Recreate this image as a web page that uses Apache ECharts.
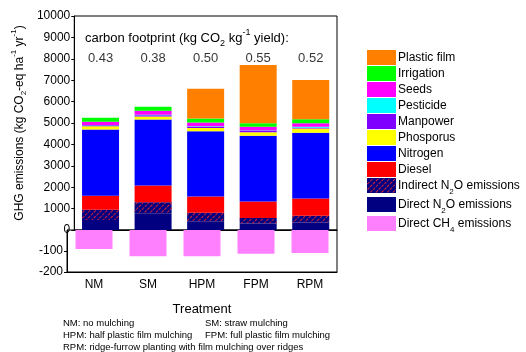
<!DOCTYPE html>
<html><head><meta charset="utf-8">
<script src="https://cdn.jsdelivr.net/npm/echarts@6/dist/echarts.min.js"></script>
<style>html,body{margin:0;padding:0;background:#fff}#c{width:526px;height:352px}</style>
</head><body><div id="c"></div>
<script>
const categories = ['NM', 'SM', 'HPM', 'FPM', 'RPM'];
const directN2O   = [470, 780, 390, 300, 350];
const indirectN2O = [480, 520, 420, 260, 320];
const diesel      = [650, 780, 750, 770, 800];
const nitrogen    = [3100, 3080, 3055, 3080, 3070];
const phosporus   = [150, 140, 155, 155, 200];
const manpower    = [40, 60, 60, 80, 40];
const pesticide   = [20, 20, 20, 20, 50];
const seeds       = [150, 190, 170, 155, 155];
const irrigation  = [190, 190, 190, 170, 190];
const plasticFilm = [0, 0, 1390, 2720, 1840];
const directCH4   = [-90, -125, -125, -113, -110];
const footprint   = [0.43, 0.38, 0.50, 0.55, 0.52];
const upperTicks  = [0, 10000, 1000];
const lowerTicks  = [-200, 0, 100];

const font = 'Liberation Sans, Arial, sans-serif';
const chart = echarts.init(document.getElementById('c'), null, {renderer: 'canvas'});
const BW = 37;
function bar(name, data, color, extra) {
  return Object.assign({
    name: name, type: 'bar', stack: 'ghg', data: data, barWidth: BW,
    xAxisIndex: 0, yAxisIndex: 0,
    itemStyle: {color: color}, emphasis: {disabled: true}
  }, extra || {});
}
const richBase = {
  n: {fontSize: 12, lineHeight: 18, verticalAlign: 'middle', fontFamily: font, color: '#000'},
  sub: {fontSize: 8, lineHeight: 10, verticalAlign: 'bottom', fontFamily: font, color: '#000'},
  sup: {fontSize: 8, lineHeight: 10, verticalAlign: 'top', fontFamily: font, color: '#000'}
};
const legendNames = ['Plastic film', 'Irrigation', 'Seeds', 'Pesticide', 'Manpower', 'Phosporus', 'Nitrogen', 'Diesel', 'Indirect N2O emissions', 'Direct N2O emissions', 'Direct CH4 emissions'];
const hatch = {symbol: 'rect', symbolSize: 1, color: '#d0203a', dashArrayX: [[3, 1]], dashArrayY: [1, 3], rotation: -Math.PI / 4};
const plain = function (v) { return String(v); };
const footFont = '9.5px Liberation Sans, Arial';

chart.setOption({
  animation: false,
  textStyle: {fontFamily: font},
  title: {
    text: '{n|carbon footprint (kg CO}{sub|2}{n| kg}{sup|-1}{n| yield):}',
    left: 80, top: 23,
    textStyle: {fontWeight: 'normal', rich: {
      n: {fontSize: 13, lineHeight: 20, verticalAlign: 'middle', fontFamily: font, color: '#000', fontWeight: 'normal'},
      sub: {fontSize: 9, lineHeight: 12, verticalAlign: 'bottom', fontFamily: font, color: '#000', fontWeight: 'normal'},
      sup: {fontSize: 9, lineHeight: 12, verticalAlign: 'top', fontFamily: font, color: '#000', fontWeight: 'normal'}
    }}
  },
  grid: [
    {left: 67, top: 16, width: 270, height: 214, show: true, borderColor: '#000', borderWidth: 1, backgroundColor: 'transparent'},
    {left: 67, top: 230, width: 270, height: 42, show: true, borderColor: '#000', borderWidth: 1, backgroundColor: 'transparent'}
  ],
  legend: {
    orient: 'vertical', left: 362, top: 45, itemWidth: 29, itemHeight: 15, itemGap: 1,
    icon: 'rect', selectedMode: false,
    data: legendNames,
    formatter: function (name) {
      if (name === 'Indirect N2O emissions') return '{n|Indirect N}{sub|2}{n|O emissions}';
      if (name === 'Direct N2O emissions') return '{n|Direct N}{sub|2}{n|O emissions}';
      if (name === 'Direct CH4 emissions') return '{n|Direct CH}{sub|4}{n| emissions}';
      return '{n|' + name + '}';
    },
    textStyle: {rich: {
      n: {fontSize: 12, lineHeight: 15, verticalAlign: 'middle', fontFamily: font, color: '#000'},
      sub: {fontSize: 8, lineHeight: 8, verticalAlign: 'bottom', fontFamily: font, color: '#000', padding: [0, 0, -3, 0]}
    }, padding: [0, 0, 0, -3]}
  },
  xAxis: [
    {type: 'category', gridIndex: 0, data: categories, axisLabel: {show: false}, axisTick: {show: false},
     axisLine: {show: true, onZero: false, lineStyle: {color: '#000', width: 1}}},
    {type: 'category', gridIndex: 1, data: categories, axisTick: {show: false},
     axisLine: {show: true, onZero: false, lineStyle: {color: '#000', width: 1}},
     axisLabel: {color: '#000', fontSize: 12, margin: 7, fontFamily: font},
     name: 'Treatment', nameLocation: 'middle', nameGap: 31,
     nameTextStyle: {color: '#000', fontSize: 13, fontFamily: font}}
  ],
  yAxis: [
    {type: 'value', gridIndex: 0, min: upperTicks[0], max: upperTicks[1], interval: upperTicks[2],
     splitLine: {show: false},
     axisLine: {show: true, lineStyle: {color: '#000'}},
     axisTick: {show: true, length: 3, lineStyle: {color: '#000'}},
     axisLabel: {color: '#000', fontSize: 12, margin: 4, fontFamily: font, formatter: plain},
     name: '{n|GHG emissions (kg CO}{sub|2}{n|-eq ha}{sup|-1}{n| yr}{sup|-1}{n|)}',
     nameLocation: 'middle', nameGap: 46, nameRotate: 90,
     nameTextStyle: {rich: richBase}},
    {type: 'value', gridIndex: 1, min: lowerTicks[0], max: lowerTicks[1], interval: lowerTicks[2],
     splitLine: {show: false},
     axisLine: {show: true, lineStyle: {color: '#000'}},
     axisTick: {show: true, length: 3, lineStyle: {color: '#000'}},
     axisLabel: {color: '#000', fontSize: 12, margin: 4, fontFamily: font, showMaxLabel: false, formatter: plain}}
  ],
  series: [
    bar('Direct N2O emissions', directN2O, '#000080'),
    bar('Indirect N2O emissions', indirectN2O, '#000080', {itemStyle: {color: '#000080', decal: hatch}}),
    bar('Diesel', diesel, '#ff0000'),
    bar('Nitrogen', nitrogen, '#0000ff'),
    bar('Phosporus', phosporus, '#ffff00'),
    bar('Manpower', manpower, '#8000ff'),
    bar('Pesticide', pesticide, '#00ffff'),
    bar('Seeds', seeds, '#ff00ff'),
    bar('Irrigation', irrigation, '#00ff00'),
    bar('Plastic film', plasticFilm, '#ff8000'),
    {name: 'Direct CH4 emissions', type: 'bar', data: directCH4, barWidth: BW,
     xAxisIndex: 1, yAxisIndex: 1, itemStyle: {color: '#ff80ff'}, emphasis: {disabled: true}},
    {name: 'footprint', type: 'scatter', xAxisIndex: 0, yAxisIndex: 0, symbolSize: 0,
     data: footprint.map(function (v, i) { return {value: [i, 8000], label: {formatter: v.toFixed(2)}}; }),
     label: {show: true, position: 'inside', color: '#000', fontSize: 13, fontFamily: font},
     emphasis: {disabled: true}}
  ],
  graphic: [
    {type: 'text', left: 63, top: 318, style: {text: 'NM: no mulching', font: footFont, fill: '#000'}},
    {type: 'text', left: 205, top: 318, style: {text: 'SM: straw mulching', font: footFont, fill: '#000'}},
    {type: 'text', left: 63, top: 330, style: {text: 'HPM: half plastic film mulching', font: footFont, fill: '#000'}},
    {type: 'text', left: 205, top: 330, style: {text: 'FPM: full plastic film mulching', font: footFont, fill: '#000'}},
    {type: 'text', left: 63, top: 342, style: {text: 'RPM: ridge-furrow planting with film mulching over ridges', font: footFont, fill: '#000'}}
  ]
});
</script></body></html>
